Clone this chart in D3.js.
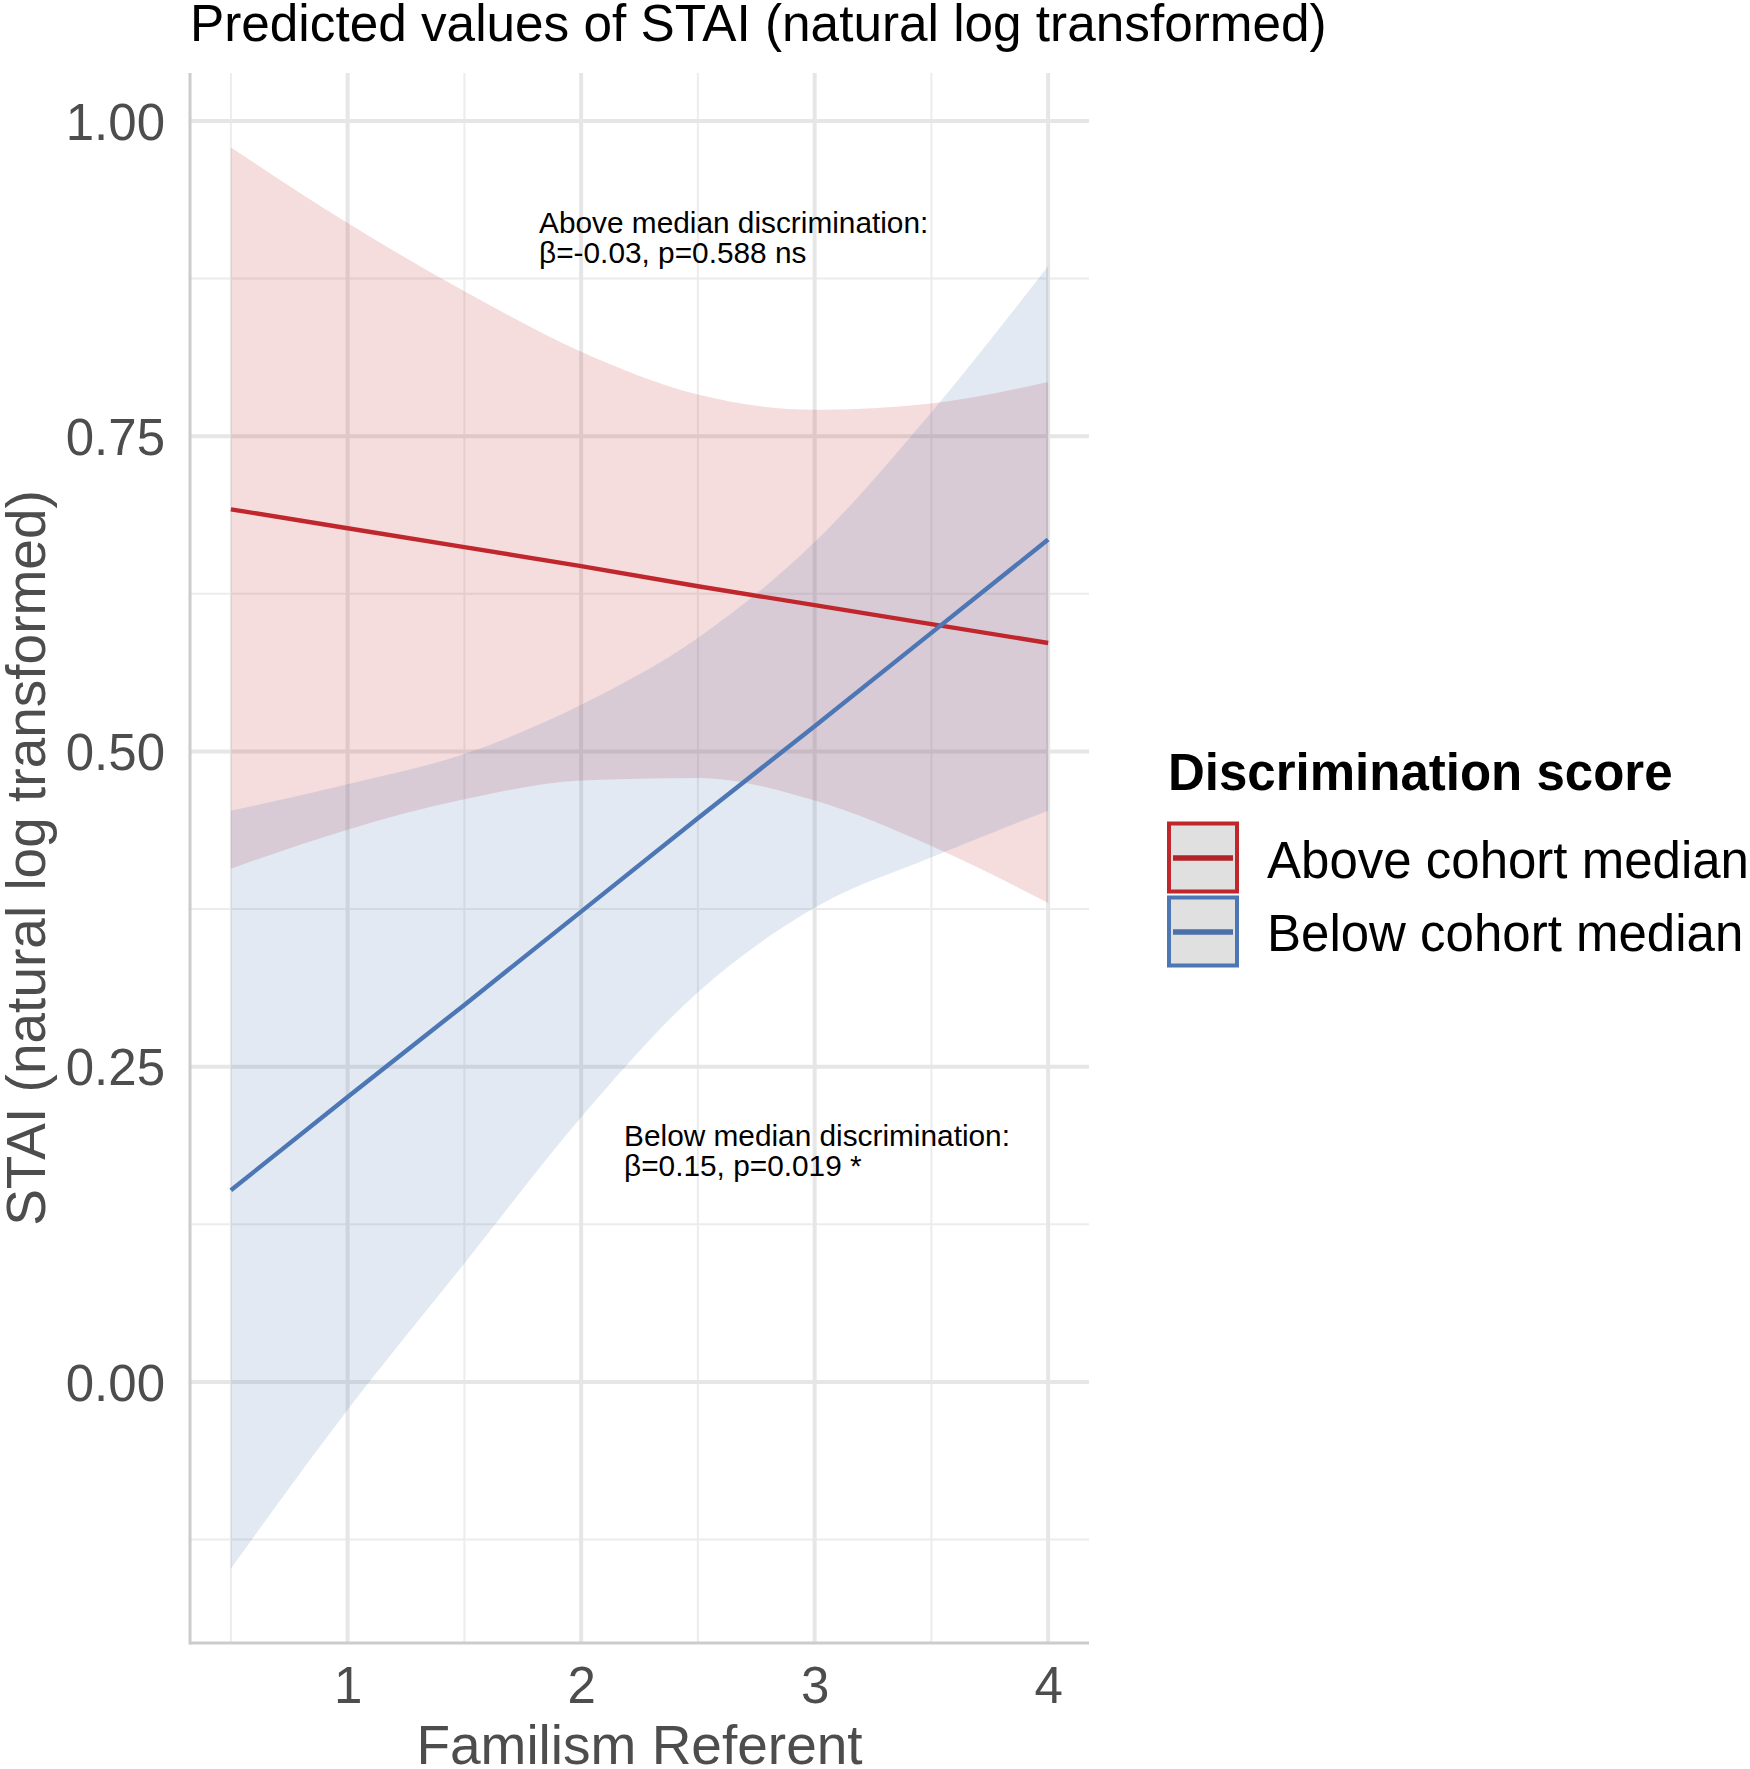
<!DOCTYPE html>
<html><head><meta charset="utf-8">
<script src="https://cdn.jsdelivr.net/npm/d3@7"></script>
<style>
body{margin:0;background:#fff}
svg{display:block}
text{font-family:"Liberation Sans",Arial,Helvetica,sans-serif}
</style>
</head><body>
<svg id="chart" width="1750" height="1769"></svg>
<script>
// ---- data ----
const xValues   = [0.5, 1, 1.5, 2, 2.5, 3, 3.5, 4];
const aboveFit  = [0.692, 0.677, 0.662, 0.647, 0.631, 0.616, 0.601, 0.586];
const aboveLow  = [0.407, 0.438, 0.462, 0.477, 0.479, 0.461, 0.425, 0.380];
const aboveHigh = [0.979, 0.919, 0.865, 0.817, 0.783, 0.771, 0.776, 0.793];
const belowFit  = [0.152, 0.226, 0.299, 0.373, 0.447, 0.520, 0.594, 0.668];
const belowLow  = [-0.148, -0.022, 0.094, 0.210, 0.309, 0.376, 0.416, 0.453];
const belowHigh = [0.453, 0.474, 0.498, 0.537, 0.590, 0.666, 0.769, 0.885];
const seriesNames = ["Above cohort median", "Below cohort median"];
const xTicks = [1, 2, 3, 4];
const xMinor = [0.5, 1.5, 2.5, 3.5];
const yTicks = [0, 0.25, 0.5, 0.75, 1];
const yMinor = [-0.125, 0.125, 0.375, 0.625, 0.875];
const annotations = [
  {x: 1.82, y: 0.911, lines: ["Above median discrimination:", "β=-0.03, p=0.588 ns"]},
  {x: 2.184, y: 0.187, lines: ["Below median discrimination:", "β=0.15, p=0.019 *"]}
];

const colors = ["#c0272d", "#4d77b4"];
const svg = d3.select("#chart");
const x = d3.scaleLinear().domain([0.325, 4.175]).range([190, 1089]);
const y = d3.scaleLinear().domain([-0.207, 1.038]).range([1643, 73]);

// grid
const grid = svg.append("g");
grid.selectAll(".ymin").data(yMinor).join("line")
  .attr("x1", x.range()[0]).attr("x2", x.range()[1])
  .attr("y1", d => y(d)).attr("y2", d => y(d))
  .attr("stroke", "#ececec").attr("stroke-width", 2);
grid.selectAll(".xmin").data(xMinor).join("line")
  .attr("y1", y.range()[0]).attr("y2", y.range()[1])
  .attr("x1", d => x(d)).attr("x2", d => x(d))
  .attr("stroke", "#ececec").attr("stroke-width", 2);
grid.selectAll(".ymaj").data(yTicks).join("line")
  .attr("x1", x.range()[0]).attr("x2", x.range()[1])
  .attr("y1", d => y(d)).attr("y2", d => y(d))
  .attr("stroke", "#e6e6e6").attr("stroke-width", 4);
grid.selectAll(".xmaj").data(xTicks).join("line")
  .attr("y1", y.range()[0]).attr("y2", y.range()[1])
  .attr("x1", d => x(d)).attr("x2", d => x(d))
  .attr("stroke", "#e6e6e6").attr("stroke-width", 4);

// bands
const series = [
  {fit: aboveFit, low: aboveLow, high: aboveHigh, color: colors[0]},
  {fit: belowFit, low: belowLow, high: belowHigh, color: colors[1]}
];
const area = d3.area().x(d => x(d.x)).y0(d => y(d.lo)).y1(d => y(d.hi)).curve(d3.curveMonotoneX);
const line = d3.line().x(d => x(d.x)).y(d => y(d.v));
series.forEach(s => {
  const pts = xValues.map((xv, i) => ({x: xv, lo: s.low[i], hi: s.high[i]}));
  svg.append("path").attr("d", area(pts)).attr("fill", s.color).attr("fill-opacity", 0.16);
});
series.forEach(s => {
  const pts = xValues.map((xv, i) => ({x: xv, v: s.fit[i]}));
  svg.append("path").attr("d", line(pts)).attr("fill", "none")
    .attr("stroke", s.color).attr("stroke-width", 4.4);
});

// axis lines
svg.append("line").attr("x1", x.range()[0]).attr("x2", x.range()[0])
  .attr("y1", y.range()[0] + 1.5).attr("y2", y.range()[1])
  .attr("stroke", "#cccccc").attr("stroke-width", 3);
svg.append("line").attr("x1", x.range()[0]).attr("x2", x.range()[1])
  .attr("y1", y.range()[0]).attr("y2", y.range()[0])
  .attr("stroke", "#cccccc").attr("stroke-width", 3);

// tick labels
const xAxis = svg.append("g").attr("transform", `translate(0,${y.range()[0]})`)
  .call(d3.axisBottom(x).tickValues(xTicks).tickSize(0).tickPadding(0).tickFormat(d3.format("d")));
xAxis.select(".domain").remove();
xAxis.selectAll("text").attr("font-size", 51).attr("fill", "#4d4d4d")
  .attr("dy", null).attr("y", 60).style("font-family", '"Liberation Sans",Arial,sans-serif');
const yAxis = svg.append("g").attr("transform", `translate(${x.range()[0]},0)`)
  .call(d3.axisLeft(y).tickValues(yTicks).tickSize(0).tickPadding(0).tickFormat(d3.format(".2f")));
yAxis.select(".domain").remove();
yAxis.selectAll("text").attr("font-size", 51).attr("fill", "#4d4d4d")
  .attr("x", -25).attr("dy", "0.355em").style("font-family", '"Liberation Sans",Arial,sans-serif');

// titles
svg.append("text").attr("x", 190).attr("y", 41).attr("font-size", 51.3).attr("fill", "#000")
  .text("Predicted values of STAI (natural log transformed)");
svg.append("text").attr("x", d3.mean(x.range())).attr("y", 1764).attr("text-anchor", "middle")
  .attr("font-size", 55).attr("fill", "#4d4d4d").text("Familism Referent");
svg.append("text").attr("transform", `translate(45,${d3.mean(y.range())}) rotate(-90)`)
  .attr("text-anchor", "middle").attr("font-size", 55).attr("fill", "#4d4d4d")
  .text("STAI (natural log transformed)");

// annotations
annotations.forEach(a => {
  const t = svg.append("text").attr("x", x(a.x)).attr("y", y(a.y)).attr("font-size", 29.8).attr("fill", "#000");
  a.lines.forEach((l, i) => t.append("tspan").attr("x", x(a.x)).attr("dy", i ? 29.5 : 0).text(l));
});

// legend
const lg = svg.append("g");
lg.append("text").attr("x", 1168).attr("y", 790).attr("font-size", 51).attr("font-weight", "bold")
  .attr("fill", "#000").text("Discrimination score");
seriesNames.forEach((n, i) => {
  const top = 823.5 + i * 74;
  lg.append("rect").attr("x", 1169).attr("y", top).attr("width", 68).attr("height", 68)
    .attr("fill", "#e0e0e0").attr("stroke", colors[i]).attr("stroke-width", 4);
  lg.append("line").attr("x1", 1173).attr("x2", 1233).attr("y1", top + 34.5).attr("y2", top + 34.5)
    .attr("stroke", i === 0 ? "#b22429" : "#4b70a8").attr("stroke-width", 5.5);
  lg.append("text").attr("x", 1267).attr("y", 878 + i * 73).attr("font-size", 51).attr("fill", "#000").text(n);
});
</script>
</body></html>
